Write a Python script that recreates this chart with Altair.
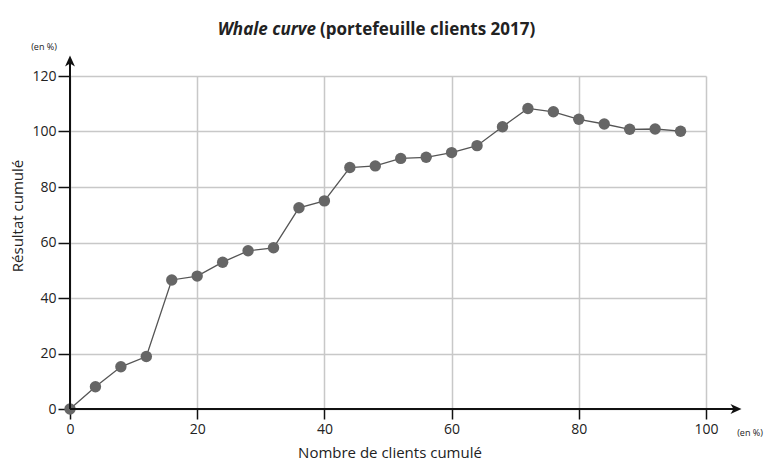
import altair as alt
import pandas as pd

# Data
clients_cum = [0, 4, 8, 12, 16, 20, 24, 28, 32, 36, 40, 44, 48, 52, 56, 60, 64, 68, 72, 76, 80, 84, 88, 92, 96]
resultat_cum = [0, 8.0, 15.2, 18.9, 46.5, 47.9, 52.9, 57.0, 58.1, 72.5, 75.0, 87.0, 87.6, 90.3, 90.7,
                92.4, 94.9, 101.7, 108.3, 107.1, 104.4, 102.7, 100.8, 100.9, 100.1]
x_ticks = [0, 20, 40, 60, 80, 100]
y_ticks = [0, 20, 40, 60, 80, 100, 120]

title_italic = "Whale curve"
title_rest = "(portefeuille clients 2017)"
x_title = "Nombre de clients cumulé"
y_title = "Résultat cumulé"
unit_label = "(en %)"

df = pd.DataFrame({"x": clients_cum, "y": resultat_cum})

FONT = "Open Sans"
TXT = "#222222"
W, H = 636, 333

base = alt.Chart(df)

xenc = alt.X("x:Q", scale=alt.Scale(domain=[0, 100], nice=False),
             axis=alt.Axis(values=x_ticks, domain=False, grid=True, gridColor="#c8c8c8", gridWidth=1.5,
                           ticks=True, tickColor="#111111", tickSize=10, tickWidth=1.5,
                           labelFont=FONT, labelFontSize=14, labelColor=TXT, labelPadding=3,
                           labelFlush=False, labelOverlap=False, labelBound=False,
                           title=None))
yenc = alt.Y("y:Q", scale=alt.Scale(domain=[0, 120], nice=False),
             axis=alt.Axis(values=y_ticks, domain=False, grid=True, gridColor="#c8c8c8", gridWidth=1.5,
                           ticks=True, tickColor="#111111", tickSize=12, tickWidth=1.5,
                           labelFont=FONT, labelFontSize=14, labelColor=TXT, labelPadding=2,
                           labelFlush=False, labelOverlap=False, labelBound=False,
                           title=None))

line = base.mark_line(color="#555555", strokeWidth=1.3).encode(x=xenc, y=yenc)
pts = base.mark_point(shape="circle", filled=True, color="#666666", size=130, opacity=1).encode(x="x:Q", y="y:Q")

one = pd.DataFrame({"k": [0]})

x_axis_line = alt.Chart(one).mark_rule(color="#111111", strokeWidth=2).encode(
    x=alt.value(0), x2=alt.value(668), y=alt.value(H))
y_axis_line = alt.Chart(one).mark_rule(color="#111111", strokeWidth=2).encode(
    x=alt.value(0), y=alt.value(H), y2=alt.value(-16))
arrow_right = alt.Chart(one).mark_point(
    shape="M1,0 L-1,-0.9 L-0.45,0 L-1,0.9 Z", filled=True, color="#111111", size=121, opacity=1
).encode(x=alt.value(666), y=alt.value(H))
arrow_up = alt.Chart(one).mark_point(
    shape="M0,-1 L-0.9,1 L0,0.45 L0.9,1 Z", filled=True, color="#111111", size=121, opacity=1
).encode(x=alt.value(0), y=alt.value(-15))

def txt(text, x, y, size=14, weight="normal", style="normal", align="center", angle=0, color=TXT):
    return alt.Chart(pd.DataFrame({"t": [text]})).mark_text(
        font=FONT, fontSize=size, fontWeight=weight, fontStyle=style, align=align,
        baseline="middle", angle=angle, color=color
    ).encode(text="t:N", x=alt.value(x), y=alt.value(y))

t1 = txt(title_italic, 246, -46, size=17, weight="bold", style="italic", align="right")
t2 = txt(title_rest, 250, -46, size=17, weight="bold", align="left")
u1 = txt(unit_label, -26, -29, size=9)
u2 = txt(unit_label, 680, 357, size=9)
xt = txt(x_title, 320, 377, size=15)
yt = txt(y_title, -52, 140, size=15, angle=270)

chart = alt.layer(
    line, pts, x_axis_line, y_axis_line, arrow_right, arrow_up, t1, t2, u1, u2, xt, yt
).properties(
    width=W, height=H,
    autosize=alt.AutoSizeParams(type="none"),
    padding={"left": 70, "top": 76, "right": 65, "bottom": 53},
    background="white",
).configure_view(stroke=None)

chart.save("out.html", embed_options={"renderer": "svg", "actions": False})
